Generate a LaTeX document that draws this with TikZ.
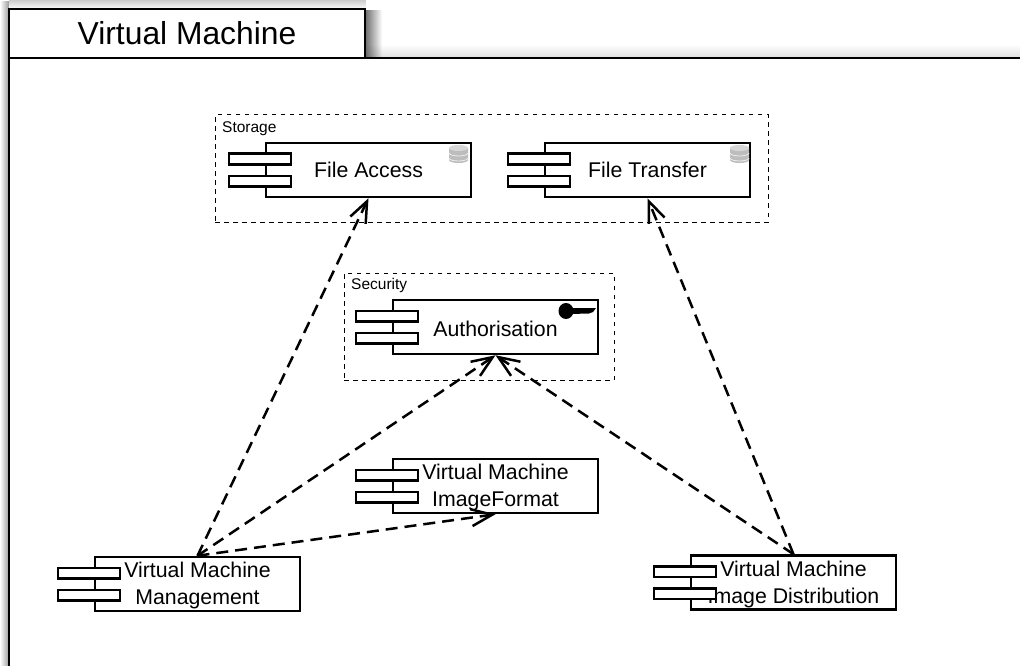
\documentclass[tikz,border=0pt]{standalone}
\usepackage{fontspec}
\setmainfont{Liberation Sans}
\usetikzlibrary{arrows.meta,fadings}

\definecolor{dbgray}{gray}{0.74}
\definecolor{dbtop}{gray}{0.84}
\definecolor{dbline}{gray}{0.93}

\tikzset{
	compbody/.style={draw, fill=white, line width=2.5pt, minimum width=205pt, minimum height=54pt, inner sep=0pt},
	comptext/.style={inner sep=0pt, align=center, font=\fontsize{21.3}{27}\selectfont},
	compport/.style={draw, fill=white, line width=2.5pt, minimum width=62pt, minimum height=10.5pt, inner sep=0pt},
	groupbox/.style={draw, line width=1pt, dash pattern=on 4.5pt off 4.5pt, minimum height=107pt, inner sep=0pt},
	grouplabel/.style={anchor=north west, inner sep=0pt, font=\fontsize{15.5}{17}\selectfont},
	depends/.style={line width=2.5pt, dash pattern=on 12pt off 7pt, -{Straight Barb[length=21pt,width=17pt,line width=2.5pt]}}
}

% component body with its text and two ports
\newcommand{\comp}[4][1.5]{
	\node[compbody] (#2) at (#3) {};
	\node[comptext] (#2text) at ([shift={(0,#1)}]#2) {#4};
	\node[compport] (#2porta) at ([shift={(-108.5,-11)}]#2) {};
	\node[compport] (#2portb) at ([shift={(-108.5,11)}]#2) {};
}

% database icon, top right of a body
\newcommand{\dbicon}[1]{
	\begin{scope}[shift={(#1)}]
		\fill[dbgray] (0, 3) -- (0, 15) arc[x radius=9.5, y radius=-3, start angle=180, end angle=360] -- (19, 3) -- cycle;
		\draw[dbline, line width=0.8pt] (0, 8) arc[x radius=9.5, y radius=-3, start angle=180, end angle=360];
		\draw[dbline, line width=0.8pt] (0, 13) arc[x radius=9.5, y radius=-3, start angle=180, end angle=360];
		\fill[dbtop] (9.5, 3) ellipse[x radius=9.5, y radius=3];
	\end{scope}
}

\begin{document}
\begin{tikzpicture}[
		x=1pt, y=-1pt
	]
	\useasboundingbox (0, 0) rectangle (1020, 666);

	% soft shadow round the frame
	\fill[black, opacity=0.12, path fading=north] (366, 44) rectangle (1020, 58);
	\fill[black, opacity=0.55, path fading=east] (366, 10) rectangle (382, 58);
	\fill[black, opacity=0.4, path fading=west] (0, 0) rectangle (9, 666);
	\fill[black, opacity=0.2, path fading=south] (9, 0) rectangle (366, 9);

	% frame
	\draw[fill=white, line width=2.5pt] (1022, 58) -- (9, 58) -- (9, 668) -- (1022, 668) -- cycle;
	\node[draw, fill=white, line width=2.5pt, minimum width=356pt, minimum height=49pt, inner sep=0pt, font=\fontsize{31.8}{34}\selectfont] (frametab) at (187, 33.5) {Virtual Machine};

	% groups
	\node[groupbox, minimum width=553pt] (storage) at (491.5, 168.5) {};
	\node[grouplabel] (storagelabel) at (222, 121) {Storage};
	\node[groupbox, minimum width=270pt] (security) at (479, 326.5) {};
	\node[grouplabel] (securitylabel) at (351, 278) {Security};

	% components
	\comp[0]{fileaccess}{368.5, 170}{File Access}
	\comp[0]{filetransfer}{647.5, 170}{File Transfer}
	\comp{authorisation}{495.5, 327}{Authorisation}
	\comp{imageformat}{495.5, 486}{Virtual Machine\\ImageFormat}
	\comp{management}{197.5, 584}{Virtual Machine\\Management}
	\comp{distribution}{793.5, 582.5}{Virtual Machine\\Image Distribution}

	\dbicon{449, 145}
	\dbicon{730, 145}

	% key icon
	\fill (566, 311) ellipse[x radius=7.5, y radius=8];
	\fill (570, 308) -- (596, 308) -- (593, 312) -- (589, 313.5) -- (570, 314) -- cycle;

	% dependencies
	\draw[depends] (management.north) -- (fileaccess.south);
	\draw[depends] (management.north) -- (authorisation.south);
	\draw[depends] (management.north) -- (imageformat.south);
	\draw[depends] (distribution.north) -- (authorisation.south);
	\draw[depends] (distribution.north) -- (filetransfer.south);
\end{tikzpicture}
\end{document}
